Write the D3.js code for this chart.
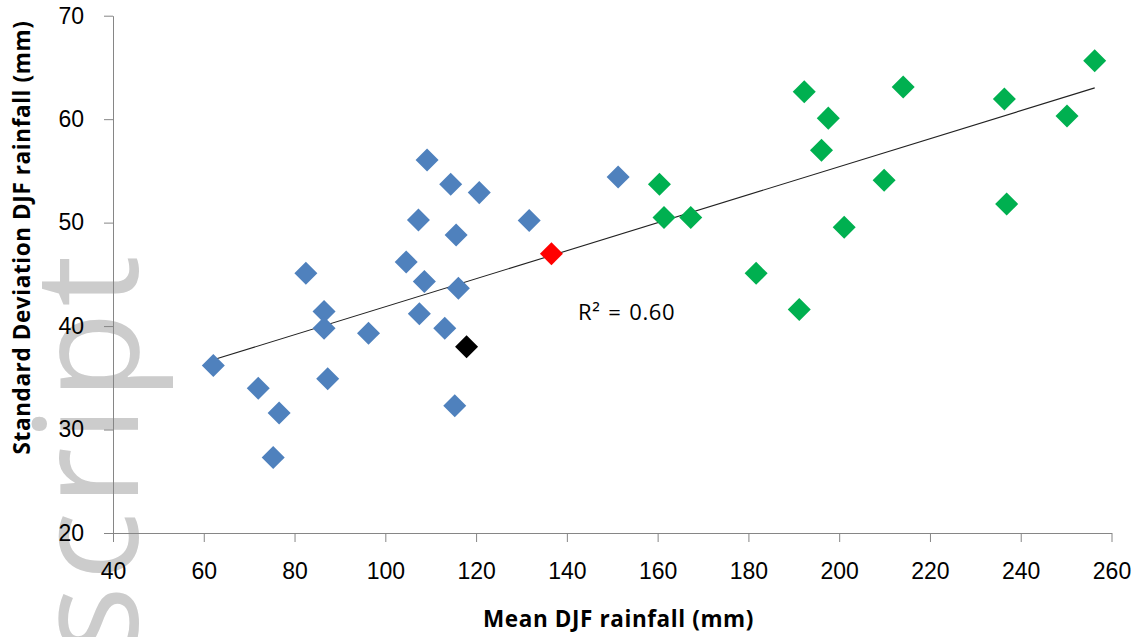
<!DOCTYPE html>
<html>
<head>
<meta charset="utf-8">
<script src="https://cdn.jsdelivr.net/npm/d3@7"></script>
<style>
  body { margin: 0; background: #fff; }
  svg { display: block; font-family: "Open Sans", sans-serif; }
  .axis path, .axis line { stroke: #868686; }
  .axis text { font-size: 23px; fill: #000; }
  .title { font-size: 22.5px; font-weight: bold; letter-spacing: 0.6px; }
</style>
</head>
<body>
<script>
const width = 1143,
  height = 637;

// Mean DJF rainfall (x) and standard deviation (y)
const blueMean = [82.5, 86.5, 62.1, 86.5, 96.3, 72.0, 87.3, 76.6, 75.3, 109.2, 114.4,
  120.7, 107.3, 115.6, 131.7, 151.3, 104.6, 108.6, 116.1, 107.5, 113.1, 115.3];
const blueSd = [45.1, 41.4, 36.2, 39.8, 39.3, 34.0, 34.9, 31.6, 27.3, 56.05, 53.7,
  52.9, 50.25, 48.8, 50.2, 54.4, 46.2, 44.3, 43.65, 41.2, 39.8, 32.3];
const greenMean = [160.4, 161.4, 167.3, 181.7, 256.3, 192.3, 214.1, 236.4, 197.6,
  250.2, 196.1, 209.9, 236.9, 201.1, 191.2];
const greenSd = [53.7, 50.5, 50.5, 45.1, 65.65, 62.65, 63.1, 61.95, 60.1,
  60.3, 57.0, 54.1, 51.8, 49.55, 41.6];
const redMean = [136.6];
const redSd = [47.0];
const blackMean = [117.9];
const blackSd = [38.0];

const xTicks = [40, 60, 80, 100, 120, 140, 160, 180, 200, 220, 240, 260];
const yTicks = [20, 30, 40, 50, 60, 70];
const r2Label = "R\u00b2 = 0.60";

const series = [
  { color: "#4f81bd", mean: blueMean, sd: blueSd },
  { color: "#00b050", mean: greenMean, sd: greenSd },
  { color: "#ff0000", mean: redMean, sd: redSd },
  { color: "#000000", mean: blackMean, sd: blackSd },
];

const x = d3.scaleLinear().domain([40, 260]).range([113, 1111.5]);
const y = d3.scaleLinear().domain([20, 70]).range([533, 15.7]);

const svg = d3
  .select("body")
  .append("svg")
  .attr("width", width)
  .attr("height", height);

// Faint watermark behind the plot (runs off the bottom edge, as in the source)
svg
  .append("text")
  .attr("transform", "translate(138,655) rotate(-90)")
  .attr("text-anchor", "start")
  .style("font-size", "145px")
  .style("letter-spacing", "5px")
  .style("fill", "#cccccc")
  .text("script");

// Axes
svg
  .append("g")
  .attr("class", "axis")
  .attr("transform", `translate(0,${y.range()[0]})`)
  .call(
    d3.axisBottom(x).tickValues(xTicks).tickSize(9).tickSizeOuter(0).tickPadding(21)
  );

svg
  .append("g")
  .attr("class", "axis")
  .attr("transform", `translate(${x.range()[0]},0)`)
  .call(
    d3.axisLeft(y).tickValues(yTicks).tickSize(9).tickSizeOuter(0).tickPadding(20)
  );

// Linear trendline over all points
const pts = series.flatMap((s) => s.mean.map((m, i) => [m, s.sd[i]]));
const mx = d3.mean(pts, (d) => d[0]),
  my = d3.mean(pts, (d) => d[1]);
const slope =
  d3.sum(pts, (d) => (d[0] - mx) * (d[1] - my)) /
  d3.sum(pts, (d) => (d[0] - mx) ** 2);
const intercept = my - slope * mx;
const [x0, x1] = d3.extent(pts, (d) => d[0]);

svg
  .append("line")
  .attr("x1", x(x0))
  .attr("y1", y(intercept + slope * x0))
  .attr("x2", x(x1))
  .attr("y2", y(intercept + slope * x1))
  .attr("stroke", "#222")
  .attr("stroke-width", 1.1);

// Diamond markers
const diamond = d3.symbol(d3.symbolSquare, 265);
series.forEach((s) => {
  svg
    .append("g")
    .selectAll("path")
    .data(s.mean.map((m, i) => [m, s.sd[i]]))
    .join("path")
    .attr("d", diamond)
    .attr("transform", (d) => `translate(${x(d[0])},${y(d[1])}) rotate(45)`)
    .attr("fill", s.color);
});

svg
  .append("text")
  .attr("x", 578)
  .attr("y", 320)
  .style("font-size", "22px")
  .style("letter-spacing", "0.6px")
  .style("word-spacing", "1.5px")
  .text(r2Label);

// Axis titles
svg
  .append("text")
  .attr("class", "title")
  .attr("x", 618.5)
  .attr("y", 627)
  .attr("text-anchor", "middle")
  .text("Mean DJF rainfall (mm)");

svg
  .append("text")
  .attr("class", "title")
  .attr("transform", "translate(30,237.5) rotate(-90)")
  .attr("text-anchor", "middle")
  .text("Standard Deviation DJF rainfall (mm)");
</script>
</body>
</html>
